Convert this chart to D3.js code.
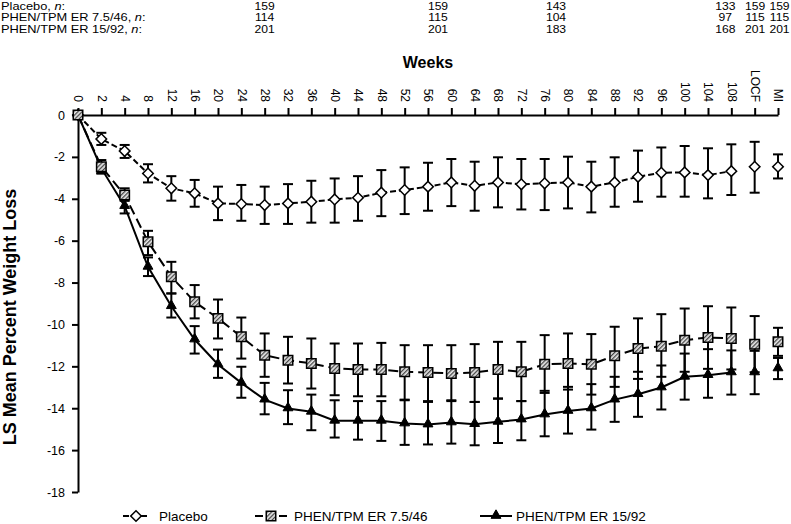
<!DOCTYPE html>
<html>
<head>
<meta charset="utf-8">
<script src="https://cdn.jsdelivr.net/npm/d3@7"></script>
<style>
	body { margin: 0; background: #fff; }
	text { font-family: "Liberation Sans", Arial, sans-serif; fill: #000; }
</style>
</head>
<body>
<div id="chart"></div>
<script>

// week categories on the x axis (last two are the endpoint analyses)
var weeks = ["0", "2", "4", "8", "12", "16", "20", "24", "28", "32", "36", "40", "44", "48",
	"52", "56", "60", "64", "68", "72", "76", "80", "84", "88", "92", "96", "100", "104", "108",
	"LOCF", "MI"];

// placebo LS mean and error bar ends
var placeboMean = [0, -1.15, -1.72, -2.79, -3.5, -3.74, -4.22, -4.25, -4.3, -4.22, -4.14, -4.03,
	-3.95, -3.71, -3.58, -3.42, -3.22, -3.38, -3.22, -3.31, -3.26, -3.22, -3.42, -3.22, -2.95,
	-2.76, -2.74, -2.87, -2.68, -2.47, -2.47];
var placeboLow = [0, -1.43, -2.05, -3.22, -4.09, -4.38, -5.02, -5.05, -5.2, -5.2, -5.14, -5.14,
	-5.05, -4.83, -4.73, -4.57, -4.35, -4.57, -4.41, -4.51, -4.54, -4.46, -4.65, -4.38, -4.14,
	-3.9, -3.9, -3.98, -3.82, -3.71, -3.03];
var placeboHigh = [0, -0.85, -1.43, -2.35, -2.92, -3.1, -3.42, -3.34, -3.42, -3.3, -3.14, -3.03,
	-2.92, -2.63, -2.5, -2.28, -2.1, -2.23, -2.02, -2.1, -2.1, -1.99, -2.23, -2.02, -1.7,
	-1.55, -1.48, -1.59, -1.4, -1.28, -1.88];

// PHEN/TPM ER 7.5/46
var midMean = [0, -2.47, -3.82, -6.05, -7.72, -8.92, -9.71, -10.59, -11.47, -11.71, -11.86, -12.1,
	-12.15, -12.15, -12.26, -12.29, -12.34, -12.29, -12.15, -12.26, -11.9, -11.86, -11.9, -11.5,
	-11.15, -11.04, -10.75, -10.62, -10.67, -10.94, -10.83];
var midLow = [0, -2.77, -4.1, -6.69, -8.52, -9.71, -10.67, -11.63, -12.5, -12.82, -13.06, -13.38,
	-13.43, -13.43, -13.62, -13.7, -13.66, -13.7, -13.54, -13.66, -13.27, -13.11, -13.35, -12.98,
	-12.6, -12.5, -12.26, -12.12, -12.15, -12.28, -11.5];
var midHigh = [0, -2.15, -3.5, -5.53, -7.01, -8.12, -8.81, -9.67, -10.43, -10.59, -10.67, -10.91,
	-10.91, -10.88, -10.99, -10.99, -10.99, -10.94, -10.83, -10.83, -10.51, -10.43, -10.46, -10.11,
	-9.71, -9.51, -9.24, -9.13, -9.19, -9.6, -10.16];

// PHEN/TPM ER 15/92
var topMean = [0, -2.55, -4.35, -7.25, -9.13, -10.72, -11.91, -12.79, -13.59, -14.01, -14.17, -14.6,
	-14.6, -14.6, -14.73, -14.78, -14.68, -14.76, -14.65, -14.54, -14.3, -14.13, -14.01, -13.59,
	-13.33, -13.01, -12.5, -12.42, -12.29, -12.29, -12.1];
var topLow = [0, -2.8, -4.7, -7.69, -9.67, -11.39, -12.55, -13.5, -14.29, -14.76, -15.05, -15.4,
	-15.5, -15.56, -15.75, -15.73, -15.69, -15.77, -15.66, -15.53, -15.34, -15.21, -15.02, -14.65,
	-14.41, -14.06, -13.59, -13.5, -13.35, -13.33, -12.61];
var topHigh = [0, -2.3, -4.0, -6.8, -8.52, -10.08, -11.2, -12.02, -12.79, -13.14, -13.35, -13.62,
	-13.66, -13.66, -13.59, -13.66, -13.62, -13.7, -13.54, -13.66, -13.17, -12.98, -12.85, -12.5,
	-12.26, -11.96, -11.39, -11.18, -11.24, -11.26, -11.6];

// numbers of subjects printed above the chart
var nColumns = ["28", "56", "80", "108", "LOCF", "MI"];
var nRowLabels = ["Placebo, ", "PHEN/TPM ER 7.5/46, ", "PHEN/TPM ER 15/92, "];
var placeboN = [159, 159, 143, 133, 159, 159];
var midN = [114, 115, 104, 97, 115, 115];
var topN = [201, 201, 183, 168, 201, 201];

var yTicks = [0, -2, -4, -6, -8, -10, -12, -14, -16, -18];

// margins
var margin = {top: 115, right: 13, bottom: 32, left: 78},
	width = 791 - margin.left - margin.right,
	height = 524 - margin.top - margin.bottom;

var svg = d3.select("#chart").append("svg")
	.attr("width", 791)
	.attr("height", 524);

// hatch pattern for the 7.5/46 squares
var pattern = svg.append("defs").append("pattern")
	.attr("id", "hatch")
	.attr("patternUnits", "userSpaceOnUse")
	.attr("width", 3)
	.attr("height", 3)
	.attr("patternTransform", "rotate(45)");
pattern.append("rect")
	.attr("width", 3)
	.attr("height", 3)
	.attr("fill", "#e6e6e6");
pattern.append("line")
	.attr("x1", 0.6).attr("y1", 0)
	.attr("x2", 0.6).attr("y2", 3)
	.attr("stroke", "#444")
	.attr("stroke-width", 1.3);

var g = svg.append("g")
	.attr("transform", "translate(" + margin.left + "," + margin.top + ")");

var x = d3.scalePoint().domain(weeks).range([0, width]),
	y = d3.scaleLinear().domain([0, -18]).range([0, height]);

// series table built from the arrays
var series = [
	{key: "placebo", label: "Placebo", mean: placeboMean, low: placeboLow, high: placeboHigh},
	{key: "top", label: "PHEN/TPM ER 15/92", mean: topMean, low: topLow, high: topHigh},
	{key: "mid", label: "PHEN/TPM ER 7.5/46", mean: midMean, low: midLow, high: midHigh}
];
series.forEach(function(s){

	s.points = weeks.map(function(w, i){

		return {week: w, mean: s.mean[i], low: s.low[i], high: s.high[i]};
	});
});

var dashes = {placebo: "6,3", mid: "10,5", top: null};

// header with n per column (text is wide in the original, so stretch it)
var nRows = [placeboN, midN, topN];
var rowY = function(r){ return 10 + r * 11.3; };

nRowLabels.forEach(function(label, r){

	var t = svg.append("text")
		.attr("transform", "translate(1," + rowY(r) + ") scale(1.27,1)")
		.style("font-size", "10.1px")
		.text(label);
	t.append("tspan").style("font-style", "italic").text("n");
	t.append("tspan").text(":");
});

var nShift = [0, 10, -12, -6, 0.5, 1.5];
nRows.forEach(function(row, r){

	svg.selectAll(".n" + r)
		.data(row)
		.enter()
		.append("text")
		.attr("class", "n" + r)
		.attr("transform", function(d, i){

			return "translate(" + (margin.left + x(nColumns[i]) + nShift[i]) + "," + rowY(r) + ") scale(1.2,1)";
		})
		.attr("text-anchor", "middle")
		.style("font-size", "10.1px")
		.text(function(d){

			return d;
		});
});

// x axis on top with rotated labels
var xAxis = g.append("g")
	.attr("class", "axis axis--x")
	.call(d3.axisTop(x).tickSize(7).tickSizeOuter(0));
xAxis.selectAll("text")
	.attr("transform", "rotate(90)")
	.attr("x", -13)
	.attr("y", 0)
	.attr("dy", "0.35em")
	.style("text-anchor", "end")
	.style("font-size", "12px");

svg.append("text")
	.attr("x", margin.left + width / 2)
	.attr("y", 68)
	.attr("text-anchor", "middle")
	.style("font-size", "16px")
	.style("font-weight", "bold")
	.text("Weeks");

// y axis
var yAxis = g.append("g")
	.attr("class", "axis axis--y")
	.call(d3.axisLeft(y).tickValues(yTicks).tickSize(6).tickSizeOuter(0).tickPadding(7)
		.tickFormat(function(d){

			return String(d);
		}));
yAxis.selectAll("text").style("font-size", "12.5px");

svg.append("text")
	.attr("transform", "translate(16,317) rotate(-90)")
	.attr("text-anchor", "middle")
	.style("font-size", "18px")
	.style("font-weight", "bold")
	.text("LS Mean Percent Weight Loss");

svg.selectAll(".axis path, .axis line")
	.attr("stroke", "#000")
	.attr("stroke-width", 2);
svg.selectAll(".axis text").style("fill", "#000");

// error bars
series.forEach(function(s){

	var bars = g.selectAll(".err-" + s.key)
		.data(s.points.filter(function(d){

			return d.low !== d.high;
		}))
		.enter()
		.append("g")
		.attr("class", "err-" + s.key)
		.attr("stroke", "#000")
		.attr("stroke-width", 2);

	bars.append("line")
		.attr("x1", function(d){ return x(d.week); })
		.attr("x2", function(d){ return x(d.week); })
		.attr("y1", function(d){ return y(d.low); })
		.attr("y2", function(d){ return y(d.high); });

	bars.append("line")
		.attr("x1", function(d){ return x(d.week) - 5; })
		.attr("x2", function(d){ return x(d.week) + 5; })
		.attr("y1", function(d){ return y(d.low); })
		.attr("y2", function(d){ return y(d.low); });

	bars.append("line")
		.attr("x1", function(d){ return x(d.week) - 5; })
		.attr("x2", function(d){ return x(d.week) + 5; })
		.attr("y1", function(d){ return y(d.high); })
		.attr("y2", function(d){ return y(d.high); });
});

// lines, joined only up to week 108
var line = d3.line()
	.x(function(d){ return x(d.week); })
	.y(function(d){ return y(d.mean); });

series.forEach(function(s){

	g.append("path")
		.datum(s.points.filter(function(d){

			return d.week !== "LOCF" && d.week !== "MI";
		}))
		.attr("fill", "none")
		.attr("stroke", "#000")
		.attr("stroke-width", 2)
		.attr("stroke-dasharray", dashes[s.key])
		.attr("d", line);
});

// marker drawing per series
function drawMarker(sel, key){

	if (key === "placebo") {
		sel.append("path")
			.attr("d", d3.symbol().type(d3.symbolSquare).size(56))
			.attr("transform", function(d){

				return "translate(" + d.x + "," + d.y + ") rotate(45)";
			})
			.attr("fill", "#fff")
			.attr("stroke", "#000")
			.attr("stroke-width", 1.5);
	} else if (key === "mid") {
		sel.append("path")
			.attr("d", d3.symbol().type(d3.symbolSquare).size(90))
			.attr("transform", function(d){

				return "translate(" + d.x + "," + d.y + ")";
			})
			.attr("fill", "url(#hatch)")
			.attr("stroke", "#000")
			.attr("stroke-width", 1.5);
	} else {
		sel.append("path")
			.attr("d", d3.symbol().type(d3.symbolTriangle).size(42))
			.attr("transform", function(d){

				return "translate(" + d.x + "," + (d.y - 0.5) + ")";
			})
			.attr("fill", "#000")
			.attr("stroke", "#000")
			.attr("stroke-width", 1);
	}
}

series.forEach(function(s){

	var marks = g.selectAll(".mark-" + s.key)
		.data(s.points.map(function(d){

			return {x: x(d.week), y: y(d.mean)};
		}))
		.enter()
		.append("g")
		.attr("class", "mark-" + s.key);
	drawMarker(marks, s.key);
});

// legend
var legendY = 516;
var legendItems = [
	{key: "placebo", label: "Placebo", x0: 123, x1: 149, tx: 159, dash: "6,3"},
	{key: "mid", label: "PHEN/TPM ER 7.5/46", x0: 255, x1: 287, tx: 294, dash: "8,16"},
	{key: "top", label: "PHEN/TPM ER 15/92", x0: 480, x1: 512, tx: 516, dash: null}
];

legendItems.forEach(function(item){

	svg.append("line")
		.attr("x1", item.x0)
		.attr("x2", item.x1)
		.attr("y1", legendY)
		.attr("y2", legendY)
		.attr("stroke", "#000")
		.attr("stroke-width", 2)
		.attr("stroke-dasharray", item.dash);

	var m = svg.append("g").datum({x: (item.x0 + item.x1) / 2, y: legendY});
	drawMarker(m, item.key);

	svg.append("text")
		.attr("x", item.tx)
		.attr("y", legendY + 5)
		.style("font-size", "13.5px")
		.text(item.label);
});

</script>
</body>
</html>
